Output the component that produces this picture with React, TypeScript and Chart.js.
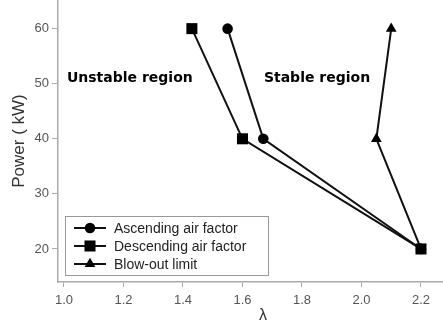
import React, { useEffect, useRef } from "react";
import { Chart, registerables } from "chart.js";

Chart.register(...registerables);

const seriesNames = ["Ascending air factor", "Descending air factor", "Blow-out limit"];
const ascendingLambda = [1.55, 1.67, 2.2];
const ascendingPower = [60, 40, 20];
const descendingLambda = [1.43, 1.6, 2.2];
const descendingPower = [60, 40, 20];
const blowoutLambda = [2.1, 2.05, 2.2];
const blowoutPower = [60, 40, 20];
const xTickValues = [1.0, 1.2, 1.4, 1.6, 1.8, 2.0, 2.2];
const yTickValues = [20, 30, 40, 50, 60];
const regionLabels = ["Unstable region", "Stable region"];
const xTitle = "λ";
const yTitle = "Power ( kW)";

const pointStyles = ["circle", "rect", "triangle"];
const pointRadii = [5.3, 7.8, 6.2];

const toPoints = (xs: number[], ys: number[]) => xs.map((x, i) => ({ x, y: ys[i] }));

function drawMarker(ctx: CanvasRenderingContext2D, style: string, r: number, x: number, y: number) {
  ctx.beginPath();
  if (style === "circle") {
    ctx.arc(x, y, r, 0, Math.PI * 2);
  } else if (style === "rect") {
    const s = Math.SQRT1_2 * r;
    ctx.rect(x - s, y - s, 2 * s, 2 * s);
  } else {
    const sx = r * Math.sin((2 * Math.PI) / 3);
    const sy = -r * Math.cos((2 * Math.PI) / 3);
    ctx.moveTo(x, y - r);
    ctx.lineTo(x + sx, y + sy);
    ctx.lineTo(x - sx, y + sy);
    ctx.closePath();
  }
  ctx.fill();
}

const overlayPlugin = {
  id: "overlay",
  afterDraw(chart: any) {
    const { ctx, chartArea, scales } = chart;
    ctx.save();
    // region labels
    ctx.fillStyle = "#000";
    ctx.font = "bold 14px 'DejaVu Sans'";
    ctx.textBaseline = "middle";
    ctx.textAlign = "left";
    const yl = scales.y.getPixelForValue(51);
    ctx.fillText(regionLabels[0], scales.x.getPixelForValue(1.01), yl);
    ctx.fillText(regionLabels[1], scales.x.getPixelForValue(1.672), yl);

    // x title
    ctx.fillStyle = "#333";
    ctx.font = "16px 'Liberation Sans'";
    ctx.textAlign = "center";
    ctx.fillText(xTitle, chartArea.left + 205, chartArea.bottom + 34);

    // legend
    const bx = chartArea.left + 7;
    const bw = 203;
    const bh = 59;
    const by = chartArea.bottom - 7 - bh;
    ctx.strokeStyle = "#999";
    ctx.lineWidth = 1;
    ctx.strokeRect(bx + 0.5, by + 0.5, bw, bh);
    ctx.font = "14px 'Liberation Sans'";
    ctx.textAlign = "left";
    for (let i = 0; i < seriesNames.length; i++) {
      const cy = by + 12 + i * 18;
      ctx.strokeStyle = "#111";
      ctx.lineWidth = 2;
      ctx.beginPath();
      ctx.moveTo(bx + 9, cy);
      ctx.lineTo(bx + 41, cy);
      ctx.stroke();
      ctx.fillStyle = "#000";
      drawMarker(ctx, pointStyles[i], pointRadii[i], bx + 25, cy);
      ctx.fillStyle = "#222";
      ctx.fillText(seriesNames[i], bx + 49, cy + 1);
    }
    ctx.restore();
  },
};

export default function App() {
  const ref = useRef<HTMLCanvasElement | null>(null);
  useEffect(() => {
    if (!ref.current) return;
    const series = [
      toPoints(ascendingLambda, ascendingPower),
      toPoints(descendingLambda, descendingPower),
      toPoints(blowoutLambda, blowoutPower),
    ];
    const chart = new Chart(ref.current, {
      type: "scatter",
      data: {
        datasets: series.map((d, i) => ({
          label: seriesNames[i],
          data: d,
          showLine: true,
          borderColor: "#111",
          borderWidth: 2,
          backgroundColor: "#000",
          pointBackgroundColor: "#000",
          pointBorderWidth: 0,
          pointStyle: pointStyles[i] as any,
          pointRadius: pointRadii[i],
          tension: 0,
        })),
      },
      options: {
        animation: false,
        responsive: false,
        layout: { autoPadding: false, padding: { left: 0, right: 0, top: 0, bottom: 0 } },
        plugins: { legend: { display: false }, tooltip: { enabled: false } },
        scales: {
          x: {
            type: "linear",
            min: 0.98,
            max: 2.274,
            afterBuildTicks: (s: any) => {
              s.ticks = xTickValues.map((v) => ({ value: v }));
            },
            afterFit: (s: any) => {
              s.height = 47;
              s.paddingLeft = 0;
              s.paddingRight = 0;
            },
            ticks: {
              font: { family: "'Liberation Sans'", size: 13 },
              color: "#555",
              padding: 6,
              maxRotation: 0,
              callback: (v: any) => Number(v).toFixed(1),
            },
            grid: { drawOnChartArea: false, drawTicks: true, tickLength: 5, color: "#aaa" },
            border: { display: true, color: "#aaa", width: 1.5 },
          },
          y: {
            type: "linear",
            min: 14,
            max: 65.2,
            afterBuildTicks: (s: any) => {
              s.ticks = yTickValues.map((v) => ({ value: v }));
            },
            afterFit: (s: any) => {
              s.width = 58;
              s.paddingTop = 0;
              s.paddingBottom = 0;
            },
            ticks: {
              font: { family: "'Liberation Sans'", size: 13 },
              color: "#555",
              padding: 3,
            },
            title: {
              display: true,
              text: yTitle,
              font: { family: "'Liberation Sans'", size: 17 },
              color: "#333",
              padding: { top: 9, bottom: 0 },
            },
            grid: { drawOnChartArea: false, drawTicks: true, tickLength: 6, color: "#aaa" },
            border: { display: true, color: "#aaa", width: 1.5 },
          },
        },
      },
      plugins: [overlayPlugin],
    });
    return () => chart.destroy();
  }, []);
  return (
    <div style={{ position: "absolute", left: 0, top: 0, width: 443, height: 329, background: "#fff" }}>
      <canvas ref={ref} width={443} height={329} />
    </div>
  );
}
